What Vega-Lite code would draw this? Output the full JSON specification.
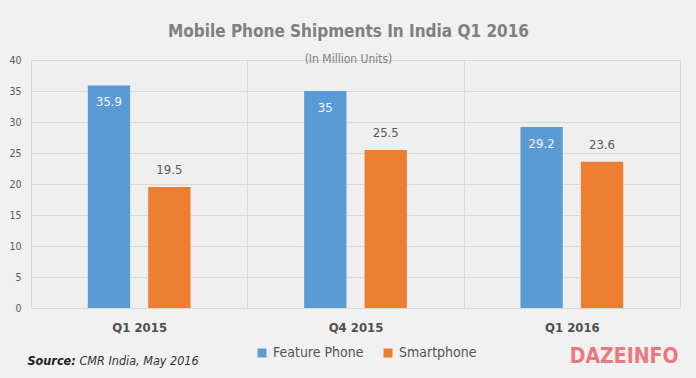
{
  "$schema": "https://vega.github.io/schema/vega-lite/v6.json",
  "width": 649,
  "height": 248,
  "autosize": {"type": "none"},
  "padding": {"left": 31, "top": 60, "right": 16, "bottom": 70},
  "background": "#f1f1f1",
  "title": {
    "text": "Mobile Phone Shipments In India Q1 2016",
    "subtitle": "(In Million Units)",
    "anchor": "middle",
    "frame": "group",
    "dx": -7,
    "offset": -11,
    "font": "DejaVu Sans Condensed, sans-serif",
    "fontSize": 17,
    "fontWeight": "bold",
    "color": "#808080",
    "subtitleFont": "DejaVu Sans Condensed, sans-serif",
    "subtitleFontSize": 12,
    "subtitleColor": "#7f7f7f",
    "subtitlePadding": 13
  },
  "data": {
    "values": [
      {"quarter": "Q1 2015", "series": "Feature Phone", "value": 35.9},
      {"quarter": "Q1 2015", "series": "Smartphone", "value": 19.5},
      {"quarter": "Q4 2015", "series": "Feature Phone", "value": 35},
      {"quarter": "Q4 2015", "series": "Smartphone", "value": 25.5},
      {"quarter": "Q1 2016", "series": "Feature Phone", "value": 29.2},
      {"quarter": "Q1 2016", "series": "Smartphone", "value": 23.6}
    ]
  },
  "encoding": {
    "x": {
      "field": "quarter",
      "type": "nominal",
      "sort": ["Q1 2015", "Q4 2015", "Q1 2016"],
      "scale": {"paddingInner": 0, "paddingOuter": 0},
      "axis": {
        "title": "CMR India, May 2016",
        "titleX": 48,
        "titleY": 52,
        "titleAlign": "left",
        "titleBaseline": "middle",
        "titleFont": "DejaVu Sans Condensed, sans-serif",
        "titleFontSize": 12.5,
        "titleFontStyle": "italic",
        "titleFontWeight": "normal",
        "titleColor": "#333333",
        "labelAngle": 0,
        "labelFont": "DejaVu Sans Condensed, sans-serif",
        "labelFontSize": 13,
        "labelFontWeight": "bold",
        "labelColor": "#505050",
        "labelPadding": 13,
        "ticks": false,
        "domain": true,
        "domainColor": "#d9d9d9",
        "grid": true,
        "gridColor": "#d9d9d9",
        "tickBand": "extent"
      }
    },
    "xOffset": {
      "field": "series",
      "type": "nominal",
      "sort": ["Feature Phone", "Smartphone"],
      "scale": {"paddingInner": 0.3, "paddingOuter": 0.94}
    }
  },
  "layer": [
    {
      "mark": {"type": "bar"},
      "encoding": {
        "y": {
          "field": "value",
          "type": "quantitative",
          "scale": {"domain": [0, 40], "nice": false},
          "axis": {
            "values": [0, 5, 10, 15, 20, 25, 30, 35, 40],
            "title": "Source:",
            "titleAngle": 0,
            "titleX": -4,
            "titleY": 300,
            "titleAlign": "left",
            "titleBaseline": "middle",
            "titleFont": "DejaVu Sans Condensed, sans-serif",
            "titleFontSize": 12.5,
            "titleFontStyle": "italic",
            "titleFontWeight": "bold",
            "titleColor": "#222222",
            "labelFont": "DejaVu Sans Condensed, sans-serif",
            "labelFontSize": 10.5,
            "labelColor": "#595959",
            "labelPadding": 10,
            "ticks": false,
            "domain": false,
            "grid": true,
            "gridColor": "#d9d9d9"
          }
        },
        "color": {
          "field": "series",
          "type": "nominal",
          "scale": {"domain": ["Feature Phone", "Smartphone"], "range": ["#5b9bd5", "#ed7d31"]},
          "legend": {
            "title": null,
            "orient": "none",
            "direction": "horizontal",
            "legendX": 224,
            "legendY": 286,
            "symbolType": "square",
            "symbolSize": 81,
            "symbolStrokeWidth": 0,
            "labelFont": "DejaVu Sans Condensed, sans-serif",
            "labelFontSize": 14,
            "labelColor": "#555555",
            "labelOffset": 4,
            "columnPadding": 17
          }
        }
      }
    },
    {
      "transform": [{"filter": "datum.series === 'Feature Phone'"}],
      "mark": {
        "type": "text",
        "dy": 17,
        "baseline": "middle",
        "font": "DejaVu Sans Condensed, sans-serif",
        "fontSize": 13,
        "color": "#f4f8fc"
      },
      "encoding": {
        "y": {"field": "value", "type": "quantitative", "axis": null},
        "text": {"field": "value", "type": "quantitative"}
      }
    },
    {
      "transform": [{"filter": "datum.series === 'Smartphone'"}],
      "mark": {
        "type": "text",
        "dy": -17,
        "baseline": "middle",
        "font": "DejaVu Sans Condensed, sans-serif",
        "fontSize": 13,
        "color": "#595959"
      },
      "encoding": {
        "y": {
          "field": "value",
          "type": "quantitative",
          "axis": {
            "orient": "right",
            "title": "DAZEINFO",
            "titleAngle": 0,
            "titleX": -2,
            "titleY": 296,
            "titleAlign": "right",
            "titleBaseline": "middle",
            "titleFont": "DejaVu Sans Condensed, sans-serif",
            "titleFontSize": 21,
            "titleFontWeight": "bold",
            "titleColor": "#e9797c",
            "labels": false,
            "ticks": false,
            "domain": false,
            "grid": false
          }
        },
        "text": {"field": "value", "type": "quantitative"}
      }
    }
  ],
  "resolve": {"axis": {"y": "independent"}},
  "config": {
    "view": {"stroke": "#d9d9d9", "fill": "#efefef"}
  }
}
